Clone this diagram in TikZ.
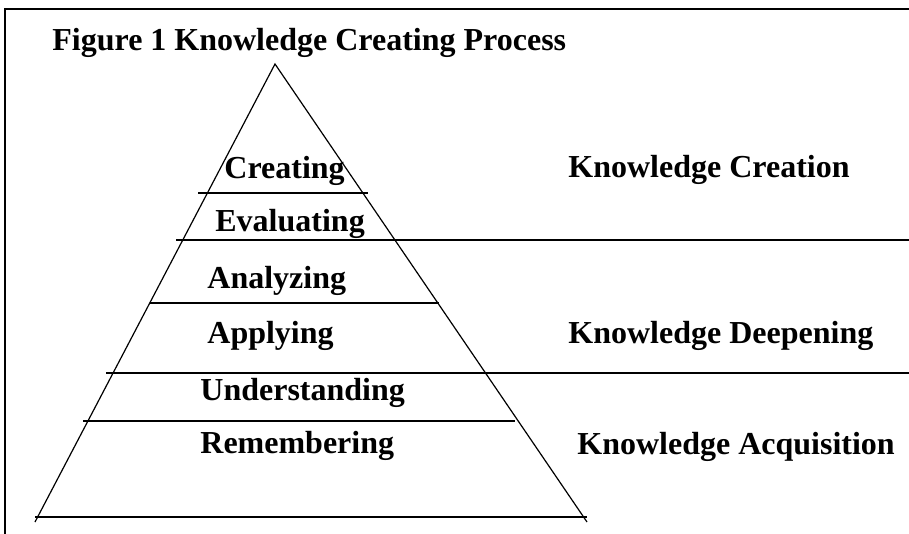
\documentclass[tikz,border=0pt]{standalone}
\usepackage{fontspec}
\setmainfont{Liberation Serif}

\begin{document}
\begin{tikzpicture}[x=0.5pt,y=-0.5pt,
	every node/.style={font=\fontsize{16}{19}\selectfont\bfseries,inner sep=0pt,anchor=base west}]
	\useasboundingbox (0,0) rectangle (909,534);
	\draw[line width=1pt] (909,9) -- (5,9) -- (5,534);
	\node (title) at (52,51) {Figure 1 Knowledge Creating Process};
	
	\coordinate (apex) at (275,64);
	\draw[line width=0.6pt] (35,522) -- (apex) -- (587,522);
	
	\draw[line width=1pt] (198,193) -- (368,193);
	\draw[line width=1pt] (176,240) -- (909,240);
	\draw[line width=1pt] (150,303) -- (439,303);
	\draw[line width=1pt] (106,373) -- (909,373);
	\draw[line width=1pt] (83,421) -- (515,421);
	\draw[line width=1pt] (35,517) -- (587,517);
	
	\node (creating) at (224,179) {Creating};
	\node (evaluating) at (215,232) {Evaluating};
	\node (analyzing) at (207,288) {Analyzing};
	\node (applying) at (207,343) {Applying};
	\node (understanding) at (200,400) {Understanding};
	\node (remembering) at (200,453) {Remembering};
	
	\node (creation) at (568,178) {Knowledge Creation};
	\node (deepening) at (568,343) {Knowledge Deepening};
	\node (acquisition) at (577,454) {Knowledge Acquisition};
\end{tikzpicture}
\end{document}
